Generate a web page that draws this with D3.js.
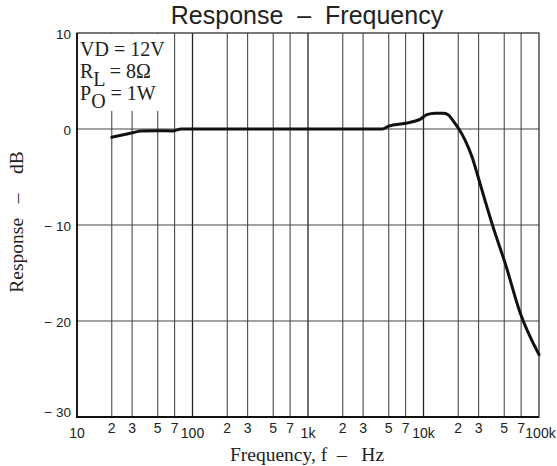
<!DOCTYPE html>
<html><head><meta charset="utf-8">
<script src="https://cdn.jsdelivr.net/npm/d3@7"></script>
<style>
html,body{margin:0;padding:0;background:#fff;}
svg{display:block;}
text{white-space:pre;}
</style></head>
<body>
<svg id="chart" width="557" height="466"></svg>
<script>
// ---- data ----
const freqHz = [20, 29, 36, 50, 68, 80, 100, 1000, 4400, 5000, 7000, 9300, 10700, 12600, 15000, 16500, 18700, 20000, 22900, 26300, 29700, 34000, 40000, 51000, 68000, 100000];
const responseDb = [-0.85, -0.45, -0.2, -0.18, -0.2, 0, 0, 0, 0, 0.3, 0.6, 1.0, 1.5, 1.65, 1.65, 1.45, 0.6, 0.1, -1.15, -2.9, -5.0, -7.4, -10.2, -14.0, -19.0, -23.5];
const decadeTicks = [10, 100, 1000, 10000, 100000];
const decadeLabels = ["10", "100", "1k", "10k", "100k"];
const minorMultipliers = [2, 3, 5, 7];
const minorLabels = ["2", "3", "5", "7"];
const yTicks = [10, 0, -10, -20, -30];
const yTickLabels = ["10", "0", "\u2212 10", "\u2212 20", "\u2212 30"];
const titleText = "Response  \u2013  Frequency";
const xTitle = "Frequency, f  \u2013   Hz";
const yTitle = "Response   \u2013    dB";

const svg = d3.select("#chart");
const x = d3.scaleLog().domain([10, 100000]).range([77, 539]);
const y = d3.scaleLinear().domain([-30, 10]).range([417, 33]);

const sans = "'Liberation Sans', Arial, sans-serif";
const serif = "'Liberation Serif', 'Times New Roman', serif";

// minor vertical gridlines
const minorVals = [];
decadeTicks.slice(0, -1).forEach(d => minorMultipliers.forEach((m, i) => minorVals.push({v: d * m, label: minorLabels[i]})));

const grid = svg.append("g");
grid.selectAll("line.minor").data(minorVals).enter().append("line")
  .attr("x1", d => x(d.v)).attr("x2", d => x(d.v))
  .attr("y1", y(10)).attr("y2", y(-30))
  .attr("stroke", "#4a4a4a").attr("stroke-width", 1.1);
grid.selectAll("line.dec").data(decadeTicks.slice(1, -1)).enter().append("line")
  .attr("x1", d => x(d)).attr("x2", d => x(d))
  .attr("y1", y(10)).attr("y2", y(-30))
  .attr("stroke", "#222").attr("stroke-width", 1.3);
grid.selectAll("line.h").data(yTicks.slice(1, -1)).enter().append("line")
  .attr("x1", x(10)).attr("x2", x(100000))
  .attr("y1", d => y(d)).attr("y2", d => y(d))
  .attr("stroke", "#444").attr("stroke-width", 1.2);

// annotation box (white background hiding grid)
svg.append("rect").attr("x", 78).attr("y", 34).attr("width", 90).attr("height", 77).attr("fill", "#fff");

// frame
svg.append("rect").attr("x", x(10)).attr("y", y(10))
  .attr("width", x(100000) - x(10)).attr("height", y(-30) - y(10))
  .attr("fill", "none").attr("stroke", "#333").attr("stroke-width", 1.3);
svg.append("path")
  .attr("d", `M${x(10)},${y(10)}V${y(-30)}H${x(100000)}`)
  .attr("fill", "none").attr("stroke", "#111").attr("stroke-width", 1.8);

// curve
const line = d3.line().x((d, i) => x(freqHz[i])).y(d => y(d)).curve(d3.curveMonotoneX);
svg.append("path").datum(responseDb).attr("d", line)
  .attr("fill", "none").attr("stroke", "#111").attr("stroke-width", 3)
  .attr("stroke-linejoin", "round").attr("stroke-linecap", "round");

// y tick labels
svg.selectAll("text.yt").data(yTicks).enter().append("text")
  .attr("x", 71).attr("y", (d, i) => y(d) + (i === yTicks.length - 1 ? 0 : 5.5))
  .attr("text-anchor", "end").attr("font-family", sans).attr("font-size", 13.5).attr("fill", "#222")
  .text((d, i) => yTickLabels[i]);

// x tick labels
svg.selectAll("text.xd").data(decadeTicks).enter().append("text")
  .attr("x", (d, i) => x(d) + (i === decadeTicks.length - 1 ? 1.5 : 0)).attr("y", 437.5)
  .attr("text-anchor", "middle").attr("font-family", sans).attr("font-size", 14).attr("fill", "#222")
  .text((d, i) => decadeLabels[i]);
svg.selectAll("text.xm").data(minorVals).enter().append("text")
  .attr("x", d => x(d.v)).attr("y", 432.5)
  .attr("text-anchor", "middle").attr("font-family", sans).attr("font-size", 14).attr("fill", "#222")
  .text(d => d.label);

// title
svg.append("text").attr("x", 307).attr("y", 24).attr("text-anchor", "middle")
  .attr("font-family", sans).attr("font-size", 25).attr("fill", "#222").text(titleText);

// axis titles
svg.append("text").attr("x", 307).attr("y", 461).attr("text-anchor", "middle")
  .attr("font-family", serif).attr("font-size", 19.5).attr("fill", "#222").text(xTitle);
svg.append("text").attr("transform", "translate(23,222) rotate(-90)").attr("text-anchor", "middle")
  .attr("font-family", serif).attr("font-size", 19.5).attr("fill", "#222").text(yTitle);

// annotation
const ann = svg.append("g").attr("font-family", serif).attr("font-size", 20).attr("fill", "#222");
ann.append("text").attr("x", 80).attr("y", 56).text("VD = 12V");
const t2 = ann.append("text").attr("x", 80).attr("y", 78);
t2.append("tspan").text("R");
t2.append("tspan").attr("dy", 8).text("L");
t2.append("tspan").attr("dy", -8).text(" = 8\u03A9");
const t3 = ann.append("text").attr("x", 80).attr("y", 100);
t3.append("tspan").text("P");
t3.append("tspan").attr("dy", 8).text("O");
t3.append("tspan").attr("dy", -8).text(" = 1W");
</script>
</body></html>
